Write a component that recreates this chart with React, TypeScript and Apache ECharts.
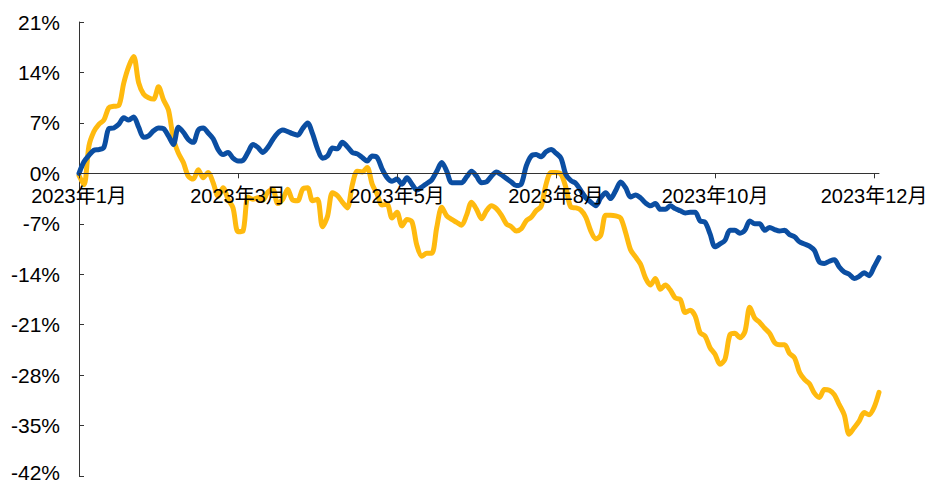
import { useEffect, useRef } from "react";
import * as echarts from "echarts";

// Labels shown under the zero line, one every `labelStep` trading days
const tickLabels = ["2023年1月", "2023年3月", "2023年5月", "2023年8月", "2023年10月", "2023年12月"];
const labelStep = 32;

// Cumulative return (%), blue series
const blueSeries = [
  0.0, 1.6, 2.5, 3.2, 3.3, 3.6, 6.2, 6.3, 6.8, 7.7,
  7.4, 7.8, 6.4, 5.0, 5.2, 5.9, 6.3, 6.2, 5.2, 4.0,
  6.4, 5.7, 4.7, 4.3, 6.0, 6.3, 5.6, 4.8, 3.3, 2.6,
  2.9, 2.1, 1.7, 1.8, 2.9, 4.0, 3.6, 2.9, 3.6, 4.7,
  5.6, 6.0, 5.8, 5.5, 5.3, 6.2, 7.0, 5.5, 3.4, 2.1,
  2.4, 3.5, 3.4, 4.3, 3.7, 2.9, 2.7, 2.2, 1.7, 2.4,
  2.2, 0.6, -0.6, -1.1, -0.8, -1.5, -0.6, -1.5, -2.3, -1.9,
  -1.4, -0.9, 0.3, 1.5, 0.3, -1.3, -1.3, -1.3, -0.5, 0.3,
  -0.4, -1.3, -1.2, -0.4, 0.2, -0.2, -0.7, -1.2, -1.7, -1.5,
  1.0, 2.4, 2.6, 2.3, 3.0, 3.3, 2.8, 2.1, -0.2, -1.0,
  -1.4, -2.4, -3.4, -4.0, -4.5, -3.4, -2.7, -3.5, -2.4, -1.2,
  -2.0, -3.3, -3.0, -3.4, -4.1, -4.5, -4.2, -5.0, -5.0, -4.5,
  -4.9, -5.2, -5.5, -5.4, -5.4, -6.6, -6.8, -8.4, -10.2, -9.8,
  -9.3, -7.9, -7.9, -8.3, -7.9, -6.6, -7.0, -7.0, -7.9, -7.5,
  -7.8, -8.0, -7.9, -8.5, -8.8, -9.5, -9.8, -10.1, -10.7, -12.3,
  -12.5, -12.2, -12.0, -13.0, -13.7, -14.0, -14.6, -14.3, -13.8, -14.2,
  -13.0, -11.7,
];

// Cumulative return (%), gold series
const goldSeries = [
  -0.3, -1.6, 3.8, 5.8, 6.8, 7.4, 9.1, 9.3, 9.4, 12.5,
  14.8, 16.2, 12.6, 11.0, 10.5, 10.3, 12.0, 10.2, 8.8, 4.8,
  2.8, 1.5, -0.4, -0.8, 0.5, -0.6, 0.1, -1.3, -3.2, -2.0,
  -3.6, -4.8, -8.1, -8.0, -3.3, -3.6, -3.4, -3.7, -2.6, -2.2,
  -4.2, -3.6, -2.2, -3.7, -3.8, -2.2, -2.0, -3.8, -3.6, -7.4,
  -6.0, -2.7, -3.1, -4.0, -4.8, -1.6, 0.3, 0.2, 0.8, -1.5,
  -2.9, -4.4, -4.3, -6.2, -5.4, -7.3, -6.4, -6.7, -10.0, -11.5,
  -11.1, -11.1, -7.5, -4.7, -5.9, -6.4, -6.8, -7.2, -5.8, -4.0,
  -5.0, -6.3, -5.2, -4.5, -4.9, -5.8, -7.0, -7.4, -8.0, -7.7,
  -6.6, -6.1, -5.2, -4.6, -1.5, 0.1, 0.1, -0.1, -2.0, -4.7,
  -4.8, -5.1, -6.1, -8.0, -9.1, -8.6, -5.8, -5.8, -5.9, -6.2,
  -8.2, -10.6, -11.6, -12.6, -14.5, -15.5, -14.6, -16.1, -15.5, -16.2,
  -17.3, -17.5, -19.3, -19.0, -19.8, -22.1, -22.6, -24.2, -25.1, -26.5,
  -25.8, -22.4, -22.2, -22.8, -22.0, -18.6, -20.1, -20.7, -21.5, -22.2,
  -23.5, -23.8, -23.8, -25.0, -25.6, -27.6, -28.6, -29.2, -30.5, -31.1,
  -30.0, -30.1, -30.7, -32.1, -33.5, -36.2, -35.3, -34.4, -33.2, -33.5,
  -32.5, -30.4,
];

// Y axis range and step (%)
const yMin = -42;
const yMax = 21;
const yStep = 7;

const days = blueSeries.map((_, i) => String(i));
const fontFamily = "Arial, 'Liberation Sans', 'Noto Sans CJK SC', sans-serif";
const GRID_BOTTOM = 8;
const HEIGHT = 484;

export default function App() {
  const ref = useRef<HTMLDivElement>(null);

  useEffect(() => {
    const chart = echarts.init(ref.current!, null, { renderer: "svg" });
    chart.setOption({
      animation: false,
      backgroundColor: "#ffffff",
      grid: {
        left: 79,
        right: 51,
        top: 22,
        bottom: GRID_BOTTOM,
        containLabel: false,
        outerBoundsMode: "none",
      },
      xAxis: {
        type: "category",
        data: days,
        boundaryGap: false,
        position: "bottom",
        offset: 0,
        z: 10,
        axisLine: { onZero: false, lineStyle: { color: "#333333", width: 1 } },
        axisTick: {
          show: true,
          interval: labelStep - 1,
          length: 5,
          inside: false,
          lineStyle: { color: "#333333" },
        },
        axisLabel: {
          interval: labelStep - 1,
          formatter: (_v: string, i: number) => tickLabels[i / labelStep] ?? "",
          fontSize: 20,
          color: "#000000",
          margin: 13,
          fontFamily,
          hideOverlap: false,
        },
        splitLine: { show: false },
      },
      yAxis: {
        type: "value",
        min: yMin,
        max: yMax,
        interval: yStep,
        axisLine: { show: true, lineStyle: { color: "#333333", width: 1 } },
        axisTick: { show: true, inside: true, length: 5, lineStyle: { color: "#333333" } },
        axisLabel: {
          // the lowest label is nudged up a little so it stays inside the page
          formatter: (v: number) => (v === yMin ? `{low|${v}%}` : `${v}%`),
          rich: {
            low: {
              fontSize: 21,
              fontFamily,
              color: "#000000",
              padding: [0, 0, 8, 0],
            },
          },
          fontSize: 21,
          lineHeight: 16,
          color: "#000000",
          margin: 19,
          fontFamily,
        },
        splitLine: { show: false },
      },
      series: [
        {
          type: "line",
          data: goldSeries,
          showSymbol: false,
          smooth: 0.3,
          lineStyle: { color: "#FFBA0F", width: 5, cap: "round", join: "round" },
          z: 2,
        },
        {
          type: "line",
          data: blueSeries,
          showSymbol: false,
          smooth: 0.3,
          lineStyle: { color: "#0B4EA2", width: 5, cap: "round", join: "round" },
          z: 3,
        },
      ],
    });

    // Move the category axis (line, ticks and labels) up to the 0% level
    const zeroY = chart.convertToPixel({ yAxisIndex: 0 }, 0) as number;
    const bottomY = HEIGHT - GRID_BOTTOM;
    chart.setOption({ xAxis: { offset: zeroY - bottomY } });

    return () => chart.dispose();
  }, []);

  return (
    <div
      ref={ref}
      style={{ position: "fixed", left: 0, top: 0, width: 930, height: HEIGHT }}
    />
  );
}
